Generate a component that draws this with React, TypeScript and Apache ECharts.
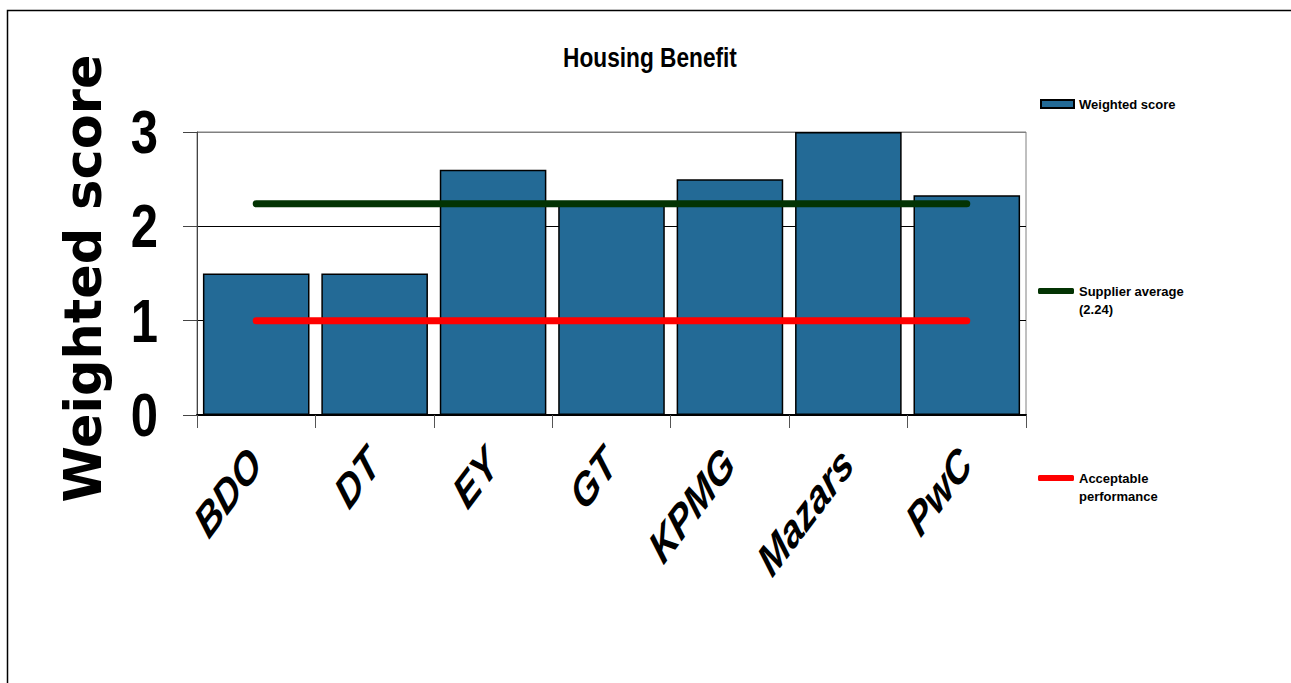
import React, { useEffect, useRef } from "react";
import * as echarts from "echarts";

const categories = ["BDO", "DT", "EY", "GT", "KPMG", "Mazars", "PwC"];
const weightedScore = [1.5, 1.5, 2.6, 2.25, 2.5, 3.0, 2.33];
const supplierAverage = [2.24, 2.24, 2.24, 2.24, 2.24, 2.24, 2.24];
const acceptablePerformance = [1, 1, 1, 1, 1, 1, 1];
const yTicks = [0, 1, 2, 3];

const ARIAL = "'Liberation Sans', Arial, sans-serif";

export default function App() {
  const ref = useRef<HTMLDivElement>(null);
  useEffect(() => {
    if (!ref.current) return;
    const chart = echarts.init(ref.current, undefined, { renderer: "svg" });
    const legendText = {
      fontFamily: ARIAL,
      fontWeight: "bold" as const,
      fontSize: 13,
      color: "#000",
      lineHeight: 18,
    };
    const baseGraphics: any[] = [
      {
        id: "frame",
        type: "rect",
        shape: { x: 7.5, y: 10.5, width: 1400, height: 800 },
        style: { fill: "none", stroke: "#000", lineWidth: 1.5 },
        silent: true,
      },
      {
        id: "title",
        type: "text",
        x: 650,
        y: 57,
        scaleX: 0.84,
        style: {
          text: "Housing Benefit",
          font: "bold 27px 'Liberation Sans', Arial, sans-serif",
          fill: "#000",
          textAlign: "center",
          textVerticalAlign: "middle",
        },
        silent: true,
      },
    ];
    chart.setOption({
      animation: false,
      backgroundColor: "#fff",
      graphic: baseGraphics,
      legend: [
        {
          data: ["Weighted score"],
          left: 1035,
          top: 90,
          icon: "rect",
          itemWidth: 33,
          itemHeight: 8,
          textStyle: legendText,
        },
        {
          data: ["Supplier average"],
          left: 1033,
          top: 259,
          icon: "roundRect",
          itemWidth: 36,
          itemHeight: 6,
          formatter: () => "\nSupplier average\n(2.24)",
          textStyle: legendText,
        },
        {
          data: ["Acceptable performance"],
          left: 1033,
          top: 446,
          icon: "roundRect",
          itemWidth: 36,
          itemHeight: 6,
          formatter: () => "\nAcceptable\nperformance",
          textStyle: legendText,
        },
      ],
      grid: {
        left: 197,
        right: 265,
        top: 132,
        bottom: 268,
        show: true,
        borderColor: "#808080",
        borderWidth: 1,
      },
      xAxis: {
        type: "category",
        data: categories,
        axisLine: { lineStyle: { color: "#000", width: 2 } },
        axisTick: { show: true, length: 13, lineStyle: { color: "#555", width: 1 } },
        axisLabel: { show: false },
      },
      yAxis: {
        type: "value",
        min: yTicks[0],
        max: yTicks[yTicks.length - 1],
        interval: 1,
        name: "Weighted score",
        nameLocation: "middle",
        nameGap: 88,
        nameTextStyle: {
          fontFamily: "'DejaVu Sans', sans-serif",
          fontWeight: "bold",
          fontSize: 51,
          color: "#000",
          padding: [0, 10, 0, 0],
        },
        axisLine: { show: true, lineStyle: { color: "#444", width: 1 } },
        axisTick: { show: true, length: 14, lineStyle: { color: "#444", width: 1 } },
        axisLabel: { show: false },
        splitLine: { show: true, lineStyle: { color: ["#000", "#000", "#000", "#808080"], width: 1 } },
      },
      series: [
        {
          name: "Weighted score",
          type: "bar",
          data: weightedScore,
          barCategoryGap: "10%",
          itemStyle: { color: "#236a96", borderColor: "#000", borderWidth: 1.5 },
          z: 2,
        },
        {
          name: "Supplier average",
          type: "line",
          data: supplierAverage,
          symbol: "none",
          lineStyle: { color: "#033303", width: 7, cap: "round" },
          itemStyle: { color: "#033303" },
          z: 3,
        },
        {
          name: "Acceptable performance",
          type: "line",
          data: acceptablePerformance,
          symbol: "none",
          lineStyle: { color: "#ff0000", width: 7, cap: "round" },
          itemStyle: { color: "#ff0000" },
          z: 3,
        },
      ],
    });

    // Axis labels placed with the library's scales (convertToPixel), in the
    // vertically stretched style of the original chart.
    const yZero = chart.convertToPixel({ yAxisIndex: 0 }, yTicks[0]) as number;
    const xLabels = categories.map((c, i) => ({
      id: "xl" + i,
      type: "group",
      x: (chart.convertToPixel({ xAxisIndex: 0 }, i) as number) - 1,
      y: yZero + 41,
      scaleY: 1.33,
      silent: true,
      children: [
        {
          type: "text",
          rotation: Math.PI / 4,
          style: {
            text: c,
            font: "italic bold 35px 'Liberation Sans', Arial, sans-serif",
            fill: "#000",
            textAlign: "right",
            textVerticalAlign: "middle",
          },
        },
      ],
    }));
    const yLabels = yTicks.map((v, i) => ({
      id: "yl" + i,
      type: "text",
      x: 158,
      y: chart.convertToPixel({ yAxisIndex: 0 }, v) as number,
      scaleY: 1.26,
      silent: true,
      style: {
        text: String(v),
        font: "bold 49px 'Liberation Sans', Arial, sans-serif",
        fill: "#000",
        textAlign: "right",
        textVerticalAlign: "middle",
      },
    }));
    chart.setOption({ graphic: [...baseGraphics, ...xLabels, ...yLabels] });
    return () => chart.dispose();
  }, []);
  return (
    <div
      ref={ref}
      style={{ position: "absolute", left: 0, top: 0, width: 1291, height: 683 }}
    />
  );
}
